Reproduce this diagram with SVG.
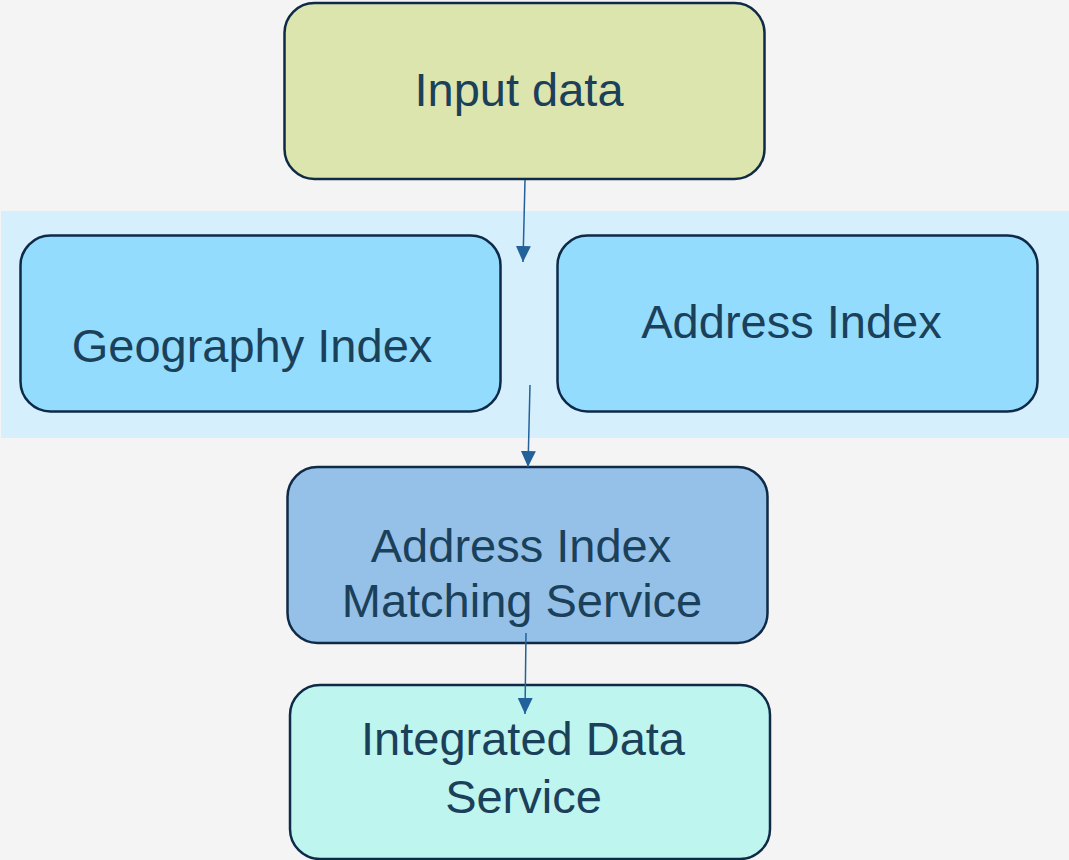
<svg xmlns="http://www.w3.org/2000/svg" width="1069" height="860" viewBox="0 0 1069 860">
<defs>
<style>
.node{stroke:#0e2a47;stroke-width:2.5}
.lbl{font-family:'Liberation Sans',Arimo,Arial,sans-serif;font-size:47px;fill:#1b405a;text-anchor:middle}
.edge{stroke:#23619a;stroke-width:1.5;fill:none}
</style>
<marker id="arr" viewBox="0 0 16 15" refX="16" refY="7.5" markerWidth="16" markerHeight="15" markerUnits="userSpaceOnUse" orient="auto">
<path d="M0,0 L16,7.5 L0,15 z" fill="#23619a"/>
</marker>
</defs>
<rect x="0" y="0" width="1069" height="860" fill="#f4f4f4"/>
<rect id="band" x="1" y="211" width="1068" height="227" fill="#d5effd"/>
<g id="input-data">
<rect class="node" x="284.5" y="3" width="480" height="176" rx="30" fill="#dde5ae"/>
<text class="lbl" x="519" y="106" font-family="Liberation Sans, Arial, sans-serif">Input data</text>
</g>
<g id="geography-index">
<rect class="node" x="20.5" y="235.5" width="480" height="176" rx="30" fill="#94dcfd"/>
<text class="lbl" x="252" y="362" font-family="Liberation Sans, Arial, sans-serif">Geography Index</text>
</g>
<g id="address-index">
<rect class="node" x="557.5" y="235.5" width="480" height="176" rx="30" fill="#94dcfd"/>
<text class="lbl" x="791.5" y="338" font-family="Liberation Sans, Arial, sans-serif">Address Index</text>
</g>
<g id="matching-service">
<rect class="node" x="287.5" y="467" width="480" height="176" rx="30" fill="#95c1e8"/>
<text class="lbl" x="521" y="562" font-family="Liberation Sans, Arial, sans-serif">Address Index</text>
<text class="lbl" x="522" y="617" font-family="Liberation Sans, Arial, sans-serif">Matching Service</text>
</g>
<g id="integrated-data-service">
<rect class="node" x="290" y="685" width="480" height="174" rx="30" fill="#bef5ef"/>
<text class="lbl" x="523" y="755" font-family="Liberation Sans, Arial, sans-serif">Integrated Data</text>
<text class="lbl" x="523.5" y="813" font-family="Liberation Sans, Arial, sans-serif">Service</text>
</g>
<g id="connectors">
<line class="edge" x1="525" y1="180" x2="523" y2="262" marker-end="url(#arr)"/>
<line class="edge" x1="530" y1="385" x2="528" y2="467" marker-end="url(#arr)"/>
<line class="edge" x1="526" y1="633" x2="525" y2="714" marker-end="url(#arr)"/>
</g>
</svg>
